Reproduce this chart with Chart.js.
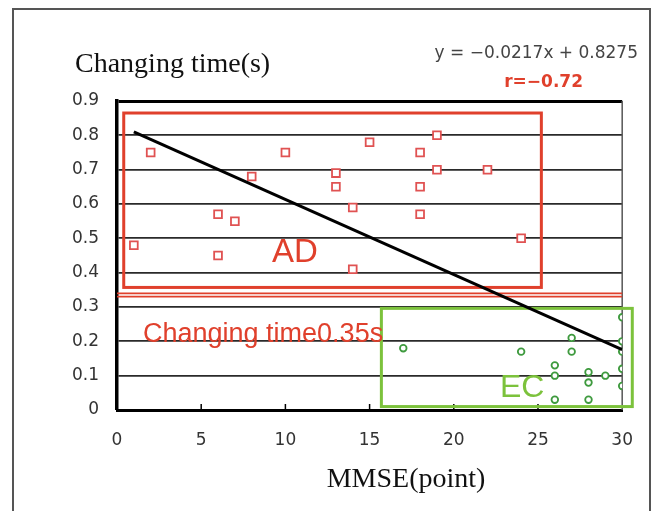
<!DOCTYPE html>
<html>
<head>
<meta charset="utf-8">
<script src="https://cdn.jsdelivr.net/npm/chart.js@4/dist/chart.umd.min.js"></script>
<style>
  html, body { margin: 0; padding: 0; background: #fff; }
  #chart { display: block; }
</style>
</head>
<body>
<canvas id="chart" width="653" height="511"></canvas>
<script>
// ── Datos ─────────────────────────────────────────────────────────────────
const adX = [1, 2, 6, 6, 7, 8, 10, 13, 13, 14, 14, 15, 18, 18, 18, 19, 19, 22, 24];
const adY = [0.48, 0.75, 0.57, 0.45, 0.55, 0.68, 0.75, 0.69, 0.65, 0.59, 0.41, 0.78, 0.75, 0.65, 0.57, 0.80, 0.70, 0.70, 0.50];

const ecX = [17, 24, 26, 26, 26, 27, 27, 28, 28, 28, 29, 30, 30, 30, 30, 30];
const ecY = [0.18, 0.17, 0.13, 0.10, 0.03, 0.21, 0.17, 0.11, 0.08, 0.03, 0.10, 0.27, 0.20, 0.17, 0.12, 0.07];

const fitX = [1, 30];
const fitY = [0.81, 0.176];

const xTicks = [0, 5, 10, 15, 20, 25, 30];
const yTicks = [0, 0.1, 0.2, 0.3, 0.4, 0.5, 0.6, 0.7, 0.8, 0.9];

const threshold = 0.335;

// cajas de grupo (unidades de datos)
const adBox = { x0: 0.4, x1: 25.2, y0: 0.357, y1: 0.865 };
const ecBox = { x0: 15.7, x1: 30.6, y0: 0.01, y1: 0.296 };

// ── Colores ───────────────────────────────────────────────────────────────
const RED = '#e0402c';
const RED_PT = '#e05252';
const GREEN = '#7cc23c';
const GREEN_PT = '#3e9a3e';
const SANS = '"DejaVu Sans", sans-serif';
const SERIF = '"Liberation Serif", "Times New Roman", serif';

const toPts = (xs, ys) => xs.map((x, i) => ({ x, y: ys[i] }));

// ── Dibujos extra ─────────────────────────────────────────────────────────
const decorations = {
  id: 'decorations',
  beforeDraw(chart) {
    const { ctx } = chart;
    ctx.save();
    ctx.fillStyle = '#fff';
    ctx.fillRect(0, 0, chart.width, chart.height);
    ctx.strokeStyle = '#555';
    ctx.lineWidth = 2;
    ctx.strokeRect(13, 9, 637, 520);
    ctx.restore();
  },
  beforeDatasetsDraw(chart) {
    const { ctx, scales: { x, y } } = chart;
    const px = v => x.getPixelForValue(v);
    const py = v => y.getPixelForValue(v);
    ctx.save();

    // borde derecho
    ctx.strokeStyle = '#555';
    ctx.lineWidth = 1.5;
    ctx.beginPath();
    ctx.moveTo(px(30), py(0.9));
    ctx.lineTo(px(30), py(0));
    ctx.stroke();

    // marcas del eje x hacia dentro
    ctx.strokeStyle = '#000';
    ctx.lineWidth = 1.5;
    xTicks.slice(1, -1).forEach(t => {
      ctx.beginPath();
      ctx.moveTo(px(t), py(0));
      ctx.lineTo(px(t), py(0) - 6);
      ctx.stroke();
    });

    // caja AD
    ctx.strokeStyle = RED;
    ctx.lineWidth = 3;
    ctx.strokeRect(px(adBox.x0), py(adBox.y1), px(adBox.x1) - px(adBox.x0), py(adBox.y0) - py(adBox.y1));

    // línea umbral (doble)
    ctx.lineWidth = 1.6;
    [-1.6, 1.6].forEach(off => {
      ctx.beginPath();
      ctx.moveTo(px(0), py(threshold) + off);
      ctx.lineTo(px(30), py(threshold) + off);
      ctx.stroke();
    });

    // caja EC
    ctx.strokeStyle = GREEN;
    ctx.lineWidth = 3;
    ctx.strokeRect(px(ecBox.x0), py(ecBox.y1), px(ecBox.x1) - px(ecBox.x0), py(ecBox.y0) - py(ecBox.y1));

    // etiquetas
    ctx.textBaseline = 'alphabetic';
    ctx.textAlign = 'left';
    ctx.fillStyle = RED;
    ctx.font = '33px "Liberation Sans", Arial, sans-serif';
    ctx.fillText('AD', 272, 262);
    ctx.font = '27px "Liberation Sans", Arial, sans-serif';
    ctx.fillText('Changing time0.35s', 143, 342);
    ctx.fillStyle = GREEN;
    ctx.font = '32px "Liberation Sans", Arial, sans-serif';
    ctx.fillText('EC', 500, 397);

    ctx.restore();
  },
  afterDraw(chart) {
    const { ctx } = chart;
    ctx.save();
    ctx.fillStyle = '#111';
    ctx.textBaseline = 'alphabetic';
    ctx.font = '28px ' + SERIF;
    ctx.textAlign = 'left';
    ctx.fillText('Changing time(s)', 75, 72);
    ctx.textAlign = 'center';
    ctx.fillText('MMSE(point)', 406, 487);

    ctx.textAlign = 'right';
    ctx.fillStyle = '#444';
    ctx.font = '17px ' + SANS;
    ctx.fillText('y = \u22120.0217x + 0.8275', 638, 58);
    ctx.fillStyle = RED;
    ctx.font = 'bold 17px ' + SANS;
    ctx.fillText('r=\u22120.72', 583, 87);
    ctx.restore();
  }
};

new Chart(document.getElementById('chart'), {
  type: 'scatter',
  data: {
    datasets: [
      {
        label: 'fit',
        type: 'line',
        data: toPts(fitX, fitY),
        borderColor: '#000',
        borderWidth: 3,
        pointRadius: 0,
        fill: false,
        order: 0
      },
      {
        label: 'AD',
        data: toPts(adX, adY),
        pointStyle: 'rect',
        pointRadius: 5.5,
        borderWidth: 1.8,
        borderColor: RED_PT,
        backgroundColor: '#fff',
        order: 1
      },
      {
        label: 'EC',
        data: toPts(ecX, ecY),
        pointStyle: 'circle',
        pointRadius: 3.3,
        borderWidth: 1.8,
        borderColor: GREEN_PT,
        backgroundColor: '#fff',
        order: 1
      }
    ]
  },
  options: {
    responsive: false,
    animation: false,
    layout: { padding: { top: 101, right: 30, left: 0, bottom: 0 } },
    plugins: { legend: { display: false }, tooltip: { enabled: false } },
    scales: {
      x: {
        type: 'linear',
        min: 0,
        max: 30,
        afterBuildTicks: s => { s.ticks = xTicks.map(v => ({ value: v })); },
        afterFit: s => { s.height = 101; },
        grid: { display: false, drawTicks: false },
        border: { color: '#000', width: 3 },
        ticks: { color: '#333', font: { family: SANS, size: 17 }, padding: 20, maxRotation: 0 }
      },
      y: {
        type: 'linear',
        min: 0,
        max: 0.9,
        afterBuildTicks: s => { s.ticks = yTicks.map(v => ({ value: v })); },
        afterFit: s => { s.width = 117; },
        grid: {
          drawTicks: false,
          color: c => c.tick.value >= 0.9 ? '#000' : '#2a2a2a',
          lineWidth: c => c.tick.value === 0 ? 0 : (c.tick.value >= 0.9 ? 3 : 1.8)
        },
        border: { color: '#000', width: 3.5 },
        ticks: {
          color: '#333',
          font: { family: SANS, size: 17 },
          padding: 18,
          callback: v => String(Math.round(v * 10) / 10)
        }
      }
    }
  },
  plugins: [decorations]
});
</script>
</body>
</html>
